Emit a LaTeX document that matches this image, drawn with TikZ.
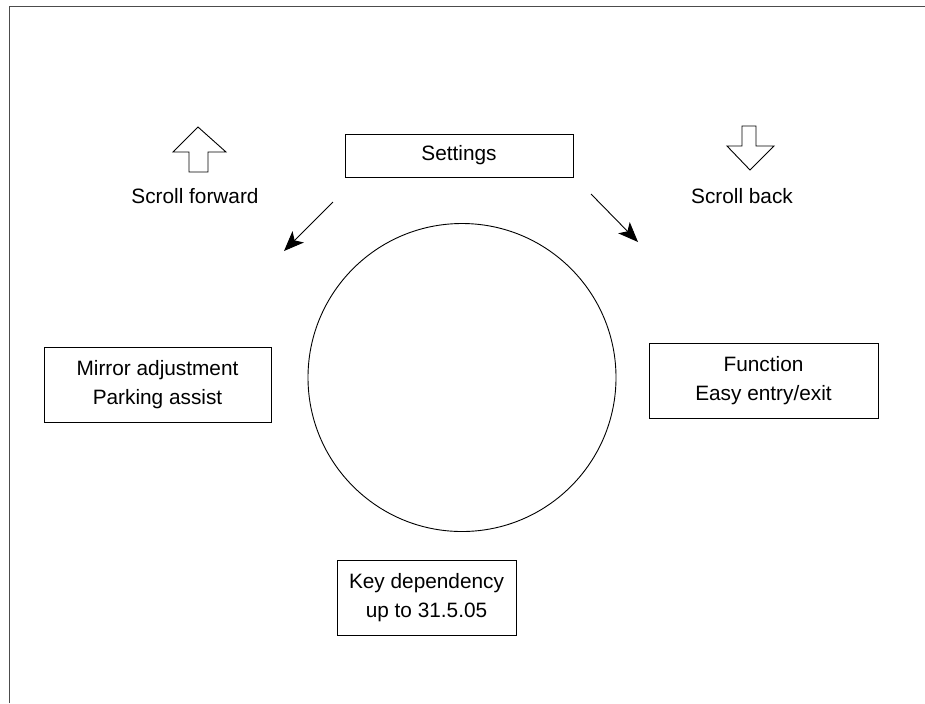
\documentclass[tikz,border=0pt]{standalone}
\usepackage{fontspec}
\setmainfont{Liberation Sans}
\usetikzlibrary{arrows.meta}

\begin{document}
\begin{tikzpicture}[x=0.5pt,y=-0.5pt]
      \tikzset{menu box/.style={draw,
          line width=0.45pt,
          inner sep=0pt,
          align=center,
          font=\fontsize{10.4}{14.5}\selectfont},
        hint/.style={inner sep=0pt, anchor=base,
          font=\fontsize{10.4}{12}\selectfont},
        turn arrow/.style={line width=0.45pt,
          -{Stealth[length=10pt,width=8pt,inset=2.5pt]}}
      }
      \useasboundingbox (0,0) rectangle (925,703);
      \draw [line width=0.5pt, black!70] (9,703) -- (9,6) -- (925,6);

      \node [menu box, minimum width=114pt, minimum height=21.5pt] (settings) at (459,155.5) {Settings};
      \node [menu box, minimum width=113.5pt, minimum height=37.5pt] (mirror) at (157.5,384.5) {Mirror adjustment\\Parking assist};
      \node [menu box, minimum width=114.5pt, minimum height=37.5pt] (entry) at (763.5,380.5) {Function\\Easy entry/exit};
      \node [menu box, minimum width=89.5pt, minimum height=37.5pt] (key) at (426.5,597.5) {Key dependency\\up to 31.5.05};
      \node [draw, circle, line width=0.45pt, minimum size=154pt, inner sep=0pt] (ring) at (462,377.5) {};

      \node [hint] (fwd) at (195,203) {Scroll forward};
      \node [hint] (back) at (742,203) {Scroll back};

      % hollow arrows
      \draw [line width=0.45pt] (198,127) -- (226,152) -- (208,152) -- (208,172)
        -- (189,172) -- (189,152) -- (173,152) -- cycle;
      \draw [line width=0.45pt] (750,170) -- (774,146) -- (756,146) -- (756,126)
        -- (742,126) -- (742,146) -- (727,146) -- cycle;

      \coordinate (fwd start) at (333,202);
      \coordinate (fwd end) at (284,251);
      \coordinate (back start) at (591,194);
      \coordinate (back end) at (638,242);
      \draw [turn arrow] (fwd start) -- (fwd end);
      \draw [turn arrow] (back start) -- (back end);

    \end{tikzpicture}
\end{document}
